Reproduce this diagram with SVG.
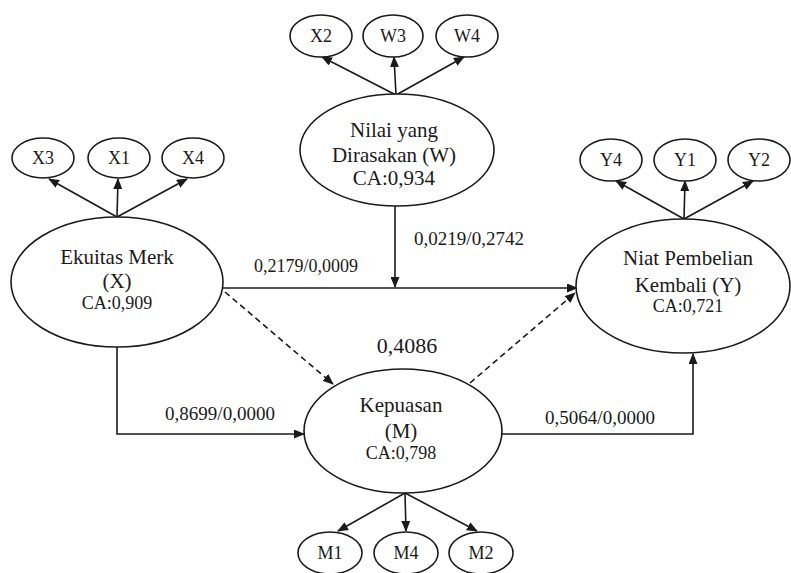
<svg xmlns="http://www.w3.org/2000/svg" width="791" height="573" viewBox="0 0 791 573">
<defs>
<marker id="ah" markerUnits="userSpaceOnUse" markerWidth="11" markerHeight="9" refX="10" refY="4.5" orient="auto">
<path d="M0,0 L11,4.5 L0,9 z" fill="#1a1a1a"/>
</marker>
<style>
.n{fill:#fff;stroke:#1a1a1a;stroke-width:1.6}
.t{font-family:"Liberation Serif","Times New Roman",serif;fill:#1a1a1a;text-anchor:middle}
.big{font-size:21px}
.ca{font-size:18px}
.sm{font-size:18px}
.lbl{font-size:19px}
.c{fill:none;stroke:#1a1a1a;stroke-width:1.6}
.a{marker-end:url(#ah)}
.d{stroke-dasharray:6 4}
</style>
</defs>
<rect width="791" height="573" fill="#fff"/>
<g id="connectors">
<line class="c a" x1="396" y1="95" x2="322" y2="57"/>
<line class="c a" x1="396" y1="95" x2="394" y2="57"/>
<line class="c a" x1="396" y1="95" x2="464" y2="57"/>
<line class="c a" x1="117" y1="217" x2="49" y2="179"/>
<line class="c a" x1="117" y1="217" x2="118" y2="179"/>
<line class="c a" x1="117" y1="217" x2="187" y2="179"/>
<line class="c a" x1="684" y1="219" x2="616" y2="181"/>
<line class="c a" x1="684" y1="219" x2="685" y2="181"/>
<line class="c a" x1="684" y1="219" x2="753" y2="181"/>
<line class="c a" x1="405" y1="493" x2="338" y2="531"/>
<line class="c a" x1="405" y1="493" x2="406" y2="531"/>
<line class="c a" x1="405" y1="493" x2="477" y2="531"/>
<line class="c a" x1="223" y1="288" x2="577" y2="288"/>
<line class="c a" x1="395" y1="206" x2="395" y2="287"/>
<line class="c a d" x1="225" y1="292" x2="333" y2="384"/>
<line class="c a d" x1="470" y1="383" x2="575" y2="293"/>
<polyline class="c a" points="117,347 117,434 304,434"/>
<polyline class="c a" points="502,434 693,434 693,354"/>
<text class="t" style="font-size:18px" x="306" y="272">0,2179/0,0009</text>
<text class="t lbl" x="469" y="245">0,0219/0,2742</text>
<text class="t" style="font-size:22px" x="407" y="353">0,4086</text>
<text class="t lbl" x="220" y="420">0,8699/0,0000</text>
<text class="t lbl" x="600" y="424">0,5064/0,0000</text>
</g>
<g id="X2"><ellipse class="n" cx="321" cy="36" rx="31" ry="21"/><text class="t sm" x="321" y="42">X2</text></g>
<g id="W3"><ellipse class="n" cx="393" cy="36" rx="30" ry="21"/><text class="t sm" x="393" y="42">W3</text></g>
<g id="W4"><ellipse class="n" cx="467" cy="36" rx="31" ry="21"/><text class="t sm" x="467" y="42">W4</text></g>
<g id="W"><ellipse class="n" cx="397" cy="150" rx="97" ry="56"/>
<text class="t big" x="394" y="137">Nilai yang</text>
<text class="t big" x="394" y="162">Dirasakan (W)</text>
<text class="t big" x="394" y="185">CA:0,934</text></g>
<g id="X3"><ellipse class="n" cx="43" cy="158" rx="31" ry="20"/><text class="t sm" x="43" y="164">X3</text></g>
<g id="X1"><ellipse class="n" cx="119" cy="158" rx="31" ry="20"/><text class="t sm" x="119" y="164">X1</text></g>
<g id="X4"><ellipse class="n" cx="193" cy="158" rx="31" ry="20"/><text class="t sm" x="193" y="164">X4</text></g>
<g id="X"><ellipse class="n" cx="117" cy="282" rx="106" ry="65"/>
<text class="t big" x="117" y="264">Ekuitas Merk</text>
<text class="t big" x="117" y="288">(X)</text>
<text class="t ca" x="117" y="309">CA:0,909</text></g>
<g id="Y4"><ellipse class="n" cx="611" cy="160" rx="31" ry="21"/><text class="t sm" x="611" y="166">Y4</text></g>
<g id="Y1"><ellipse class="n" cx="685" cy="160" rx="31" ry="21"/><text class="t sm" x="685" y="166">Y1</text></g>
<g id="Y2"><ellipse class="n" cx="759" cy="160" rx="31" ry="21"/><text class="t sm" x="759" y="166">Y2</text></g>
<g id="Y"><ellipse class="n" cx="683" cy="286" rx="107" ry="67"/>
<text class="t big" x="688" y="265">Niat Pembelian</text>
<text class="t big" x="688" y="292">Kembali (Y)</text>
<text class="t ca" x="688" y="312">CA:0,721</text></g>
<g id="M"><ellipse class="n" cx="403" cy="431" rx="99" ry="62"/>
<text class="t big" x="401" y="412">Kepuasan</text>
<text class="t big" x="401" y="438">(M)</text>
<text class="t ca" x="401" y="459">CA:0,798</text></g>
<g id="M1"><ellipse class="n" cx="330" cy="553" rx="32" ry="21"/><text class="t sm" x="330" y="559">M1</text></g>
<g id="M4"><ellipse class="n" cx="406" cy="553" rx="32" ry="21"/><text class="t sm" x="406" y="559">M4</text></g>
<g id="M2"><ellipse class="n" cx="481" cy="553" rx="32" ry="21"/><text class="t sm" x="481" y="559">M2</text></g>
</svg>
